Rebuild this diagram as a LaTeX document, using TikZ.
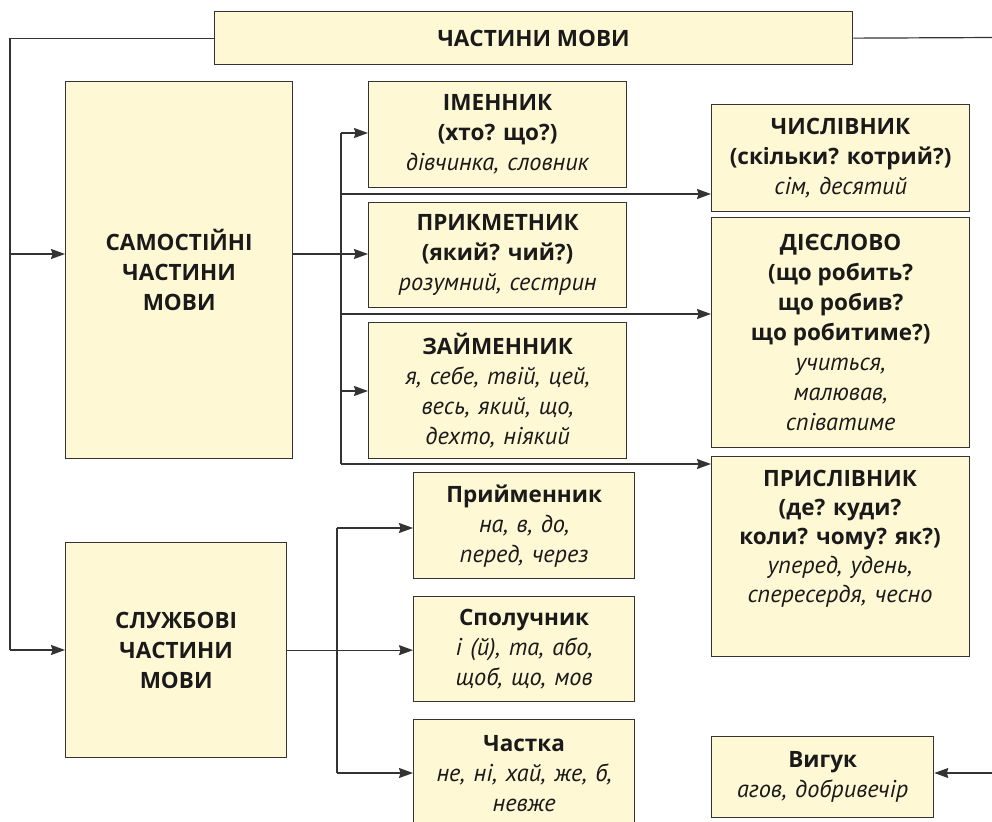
\documentclass[tikz,border=0pt]{standalone}
\usepackage{fontspec}
\setmainfont{Open Sans}[ItalicFont=PT Sans Italic, ItalicFeatures={Scale=1.08, WordSpace=1.3}]
\usetikzlibrary{arrows.meta}
\definecolor{boxfill}{HTML}{FFF8D4}
\definecolor{linec}{HTML}{333333}
\definecolor{textc}{HTML}{1A1A1A}
\begin{document}
\begin{tikzpicture}[x=1pt,y=-1pt,
 box/.style={draw=linec, line width=1.3pt, fill=boxfill, anchor=north west, inner sep=0pt, align=center, text=textc, font=\fontsize{22.5}{30}\selectfont},
 txt/.style={inner sep=0pt, align=center, text=textc, font=\fontsize{22.5}{29}\selectfont},
 conn/.style={draw=linec, line width=1.2pt},
 arr/.style={conn, -{Stealth[length=14pt,width=10pt,inset=1.5pt]}}]
\useasboundingbox (0,0) rectangle (992,821);

\node[box, minimum width=638, minimum height=53] (top) at (214,11) {\textbf{ЧАСТИНИ МОВИ}};
\node[box, minimum width=227, minimum height=377] (sam) at (65,81) {\textbf{САМОСТІЙНІ}\\\textbf{ЧАСТИНИ}\\\textbf{МОВИ}};
\node[box, minimum width=221, minimum height=215] (sluzh) at (65,542) {\textbf{СЛУЖБОВІ}\\\textbf{ЧАСТИНИ}\\\textbf{МОВИ}};

\node[box, minimum width=258, minimum height=106] (imen) at (368,81) {\textbf{ІМЕННИК}\\\textbf{(хто? що?)}\\\textit{дівчинка, словник}};
\node[box, minimum width=258, minimum height=105] (prykm) at (368,202) {\textbf{ПРИКМЕТНИК}\\\textbf{(який? чий?)}\\\textit{розумний, сестрин}};
\node[box, minimum width=258, minimum height=136] (zaim) at (368,322) {\textbf{ЗАЙМЕННИК}\\\textit{я, себе, твій, цей,}\\\textit{весь, який, що,}\\\textit{дехто, ніякий}};

\node[box, minimum width=258, minimum height=107] (chysl) at (711,104) {\textbf{ЧИСЛІВНИК}\\\textbf{(скільки? котрий?)}\\\textit{сім, десятий}};
\node[box, minimum width=258, minimum height=230] (diye) at (711,217) {\textbf{ДІЄСЛОВО}\\\textbf{(що робить?}\\\textbf{що робив?}\\\textbf{що робитиме?)}\\\textit{учиться,}\\\textit{малював,}\\\textit{співатиме}};
\node[box, minimum width=258, minimum height=200] (prisl) at (711,456) {};
\node[txt, anchor=north] (prislt) at (840,470) {\textbf{ПРИСЛІВНИК}\\\textbf{(де? куди?}\\\textbf{коли? чому? як?)}\\\textit{уперед, удень,}\\\textit{спересердя, чесно}};

\node[box, minimum width=221, minimum height=106] (pryim) at (413,472) {\textbf{Прийменник}\\\textit{на, в, до,}\\\textit{перед, через}};
\node[box, minimum width=221, minimum height=105] (spol) at (413,596) {\textbf{Сполучник}\\\textit{і (й), та, або,}\\\textit{щоб, що, мов}};
\node[box, minimum width=221, minimum height=108] (chast) at (413,719) {\textbf{Частка}\\\textit{не, ні, хай, же, б,}\\\textit{невже}};
\node[box, minimum width=222, minimum height=81] (vyhuk) at (711,736) {\textbf{Вигук}\\\textit{агов, добривечір}};

% left trunk
\coordinate (lc) at (10,650);
\coordinate (ja) at (10,254);
\draw[conn] (top.west) -| (lc);
\draw[arr] (ja) -- (ja -| sam.west);
\draw[arr] (lc) -- (lc -| sluzh.west);

% right trunk
\coordinate (rc1) at (997,37.5);
\coordinate (rc2) at (997,773);
\draw[conn] (top.east) -- (rc1) -- (rc2);
\draw[arr] (rc2) -- (rc2 -| vyhuk.east);

% samostiyni trunk
\coordinate (t1) at (341,133);
\coordinate (t2) at (341,194);
\coordinate (sj) at (341,254);
\coordinate (t4) at (341,314);
\coordinate (t5) at (341,391);
\coordinate (t6) at (341,464);
\draw[conn] (t1) -- (t6);
\draw[arr] (sj -| sam.east) -- (sj -| prykm.west);
\draw[arr] (t1) -- (t1 -| imen.west);
\draw[arr] (t2) -- (t2 -| chysl.west);
\draw[arr] (t4) -- (t4 -| diye.west);
\draw[arr] (t5) -- (t5 -| zaim.west);
\draw[arr] (t6) -- (t6 -| prisl.west);

% sluzhbovi trunk
\coordinate (s1) at (337,528);
\coordinate (s3) at (337,773);
\draw[conn] (s1) -- (s3);
\draw[arr] (sluzh.east) -- (sluzh.east -| spol.west);
\draw[arr] (s1) -- (s1 -| pryim.west);
\draw[arr] (s3) -- (s3 -| chast.west);
\end{tikzpicture}
\end{document}
